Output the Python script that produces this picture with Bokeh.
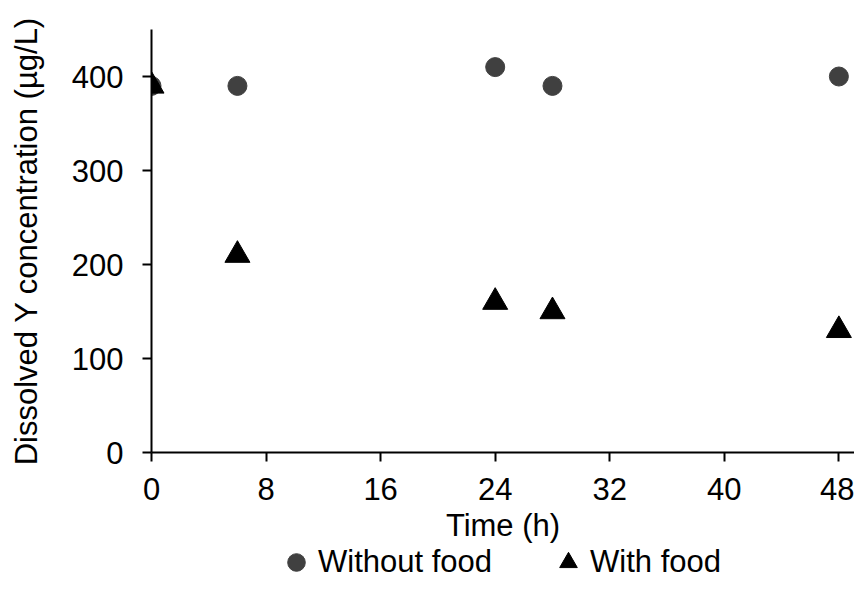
from bokeh.plotting import figure
from bokeh.layouts import column
from bokeh.models import Range1d, FixedTicker, Legend, LegendItem
from bokeh.embed import file_html
from bokeh.resources import INLINE

# Data
time_h = [0, 6, 24, 28, 48]
without_food = [390, 390, 410, 390, 400]
with_food = [390, 210, 160, 150, 130]
x_ticks = [0, 8, 16, 24, 32, 40, 48]
y_ticks = [0, 100, 200, 300, 400]
series_labels = ["Without food", "With food"]

FONT = "Liberation Sans"
FS = "31px"
C_CIRCLE = "#404040"
C_TRI = "#000000"

p = figure(width=854, height=545, output_backend="svg", toolbar_location=None,
           x_range=Range1d(0, 49.09), y_range=Range1d(0, 450),
           min_border_left=151, min_border_right=0, min_border_top=29, min_border_bottom=93)
p.outline_line_color = None
p.xgrid.visible = False
p.ygrid.visible = False
p.background_fill_color = "white"
p.border_fill_color = "white"

p.scatter(time_h, without_food, marker="circle", size=19, color=C_CIRCLE)
p.scatter(time_h, with_food, marker="triangle", size=25, color=C_TRI)

for ax in (p.xaxis[0], p.yaxis[0]):
    ax.axis_line_color = "black"
    ax.axis_line_width = 2
    ax.major_tick_line_color = "black"
    ax.major_tick_line_width = 2
    ax.major_tick_in = 0
    ax.major_tick_out = 9
    ax.minor_tick_line_color = None
    ax.major_label_text_font = FONT
    ax.major_label_text_font_size = FS
    ax.major_label_text_color = "black"
    ax.axis_label_text_font = FONT
    ax.axis_label_text_font_size = FS
    ax.axis_label_text_font_style = "normal"
    ax.axis_label_text_color = "black"

p.xaxis.ticker = FixedTicker(ticks=x_ticks)
p.yaxis.ticker = FixedTicker(ticks=y_ticks)
p.xaxis.axis_label = "Time (h)"
p.yaxis.axis_label = "Dissolved Y concentration (µg/L)"
p.xaxis.major_label_standoff = 16
p.xaxis.axis_label_standoff = 5
p.yaxis.major_label_standoff = 19
p.yaxis.axis_label_standoff = 25

# Legend strip below the chart (hidden copies of the series feed the legend glyphs)
q = figure(width=854, height=35, output_backend="svg", toolbar_location=None,
           x_axis_type=None, y_axis_type=None,
           min_border_left=0, min_border_right=0, min_border_top=0, min_border_bottom=0)
q.outline_line_color = None
q.background_fill_color = "white"
q.border_fill_color = "white"
l1 = q.scatter(time_h, without_food, marker="circle", size=19, color=C_CIRCLE, visible=False)
l2 = q.scatter(time_h, with_food, marker="triangle", size=25, color=C_TRI, visible=False)

legend = Legend(items=[LegendItem(label=series_labels[0], renderers=[l1]),
                       LegendItem(label=series_labels[1], renderers=[l2])],
                orientation="horizontal", location=(123, -6),
                glyph_width=44, glyph_height=48, label_standoff=0, spacing=54,
                padding=0, margin=0, border_line_color=None, background_fill_alpha=0,
                inactive_fill_alpha=0,
                label_text_font=FONT, label_text_font_size=FS, label_text_color="black")
q.add_layout(legend, "center")

layout = column(p, q, spacing=0)
open("out.html", "w").write(file_html(layout, INLINE))
